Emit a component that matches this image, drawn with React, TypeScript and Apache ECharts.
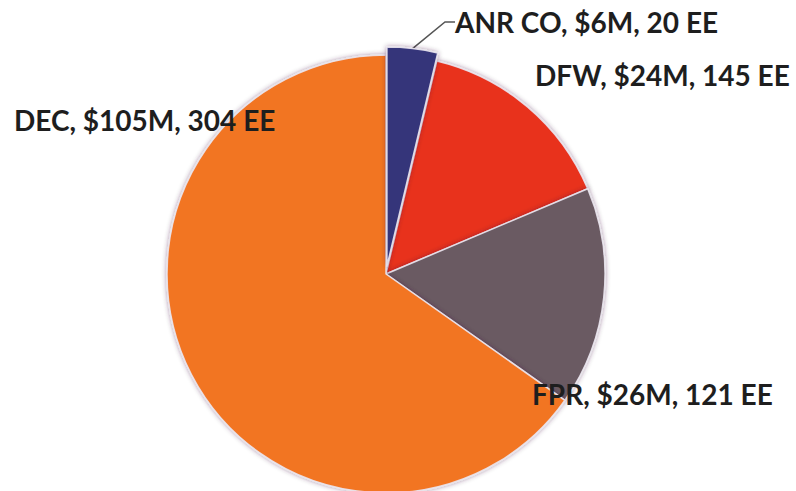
import React, { useEffect, useRef } from "react";
import * as echarts from "echarts";

const names = ["ANR CO", "DFW", "FPR", "DEC"];
const revenueM = [6, 24, 26, 105];
const employees = [20, 145, 121, 304];
const colors = ["#34347A", "#E8301F", "#6A5A62", "#F27524"];
const explodedIndex = 0;

// label anchor points (left edge, top edge) in px
const labelPos = [
  [455, 8],
  [535, 61],
  [532, 380],
  [14, 106],
];

export default function App() {
  const ref = useRef<HTMLDivElement>(null);
  useEffect(() => {
    if (!ref.current) return;
    const chart = echarts.init(ref.current, undefined, { renderer: "svg" });
    const center = [386, 274];
    const radius = 219;
    const explode = 8;
    const total = revenueM.reduce((a, b) => a + b, 0);
    const before = revenueM.slice(0, explodedIndex).reduce((a, b) => a + b, 0);
    const midAngle = ((before + revenueM[explodedIndex] / 2) / total) * Math.PI * 2;
    const exCenter = [
      center[0] + explode * Math.sin(midAngle),
      center[1] - explode * Math.cos(midAngle),
    ];

    const makeData = (visible: (i: number) => boolean) =>
      names.map((n, i) => ({
        name: n,
        value: revenueM[i],
        emp: employees[i],
        itemStyle: visible(i)
          ? { color: colors[i] }
          : { color: "rgba(0,0,0,0)", borderWidth: 0, shadowBlur: 0, shadowColor: "rgba(0,0,0,0)" },
        label: { show: visible(i) },
        labelLine: { show: visible(i) && i === explodedIndex },
        silent: !visible(i),
      }));

    const common = {
      type: "pie",
      radius,
      startAngle: 90,
      clockwise: true,
      selectedMode: false,
      itemStyle: {
        borderColor: "rgba(235,230,240,0.9)",
        borderWidth: 1.5,
        shadowBlur: 5,
        shadowColor: "rgba(60,30,60,0.45)",
      },
      label: {
        show: true,
        position: "outside",
        overflow: "none",
        width: 400,
        formatter: (p: any) => `${p.name}, $${p.value}M, ${p.data.emp} EE`,
        fontFamily: "Lato",
        fontWeight: "bold",
        fontSize: 28,
        color: "#1e1e1e",
      },
      labelLine: {
        show: true,
        length: 6,
        length2: 10,
        lineStyle: { color: "#555", width: 1.5 },
      },
      labelLayout: (params: any) => {
        const p = labelPos[params.dataIndex];
        return { x: p[0], y: p[1], align: "left", verticalAlign: "top" };
      },
    };

    chart.setOption({
      animation: false,
      backgroundColor: "#ffffff",
      series: [
        {
          ...common,
          center,
          data: makeData((i) => i !== explodedIndex),
        },
        {
          ...common,
          center: exCenter,
          data: makeData((i) => i === explodedIndex),
        },
      ],
    });
    return () => chart.dispose();
  }, []);
  return (
    <div
      ref={ref}
      style={{ position: "fixed", left: 0, top: 0, width: 796, height: 491 }}
    />
  );
}
